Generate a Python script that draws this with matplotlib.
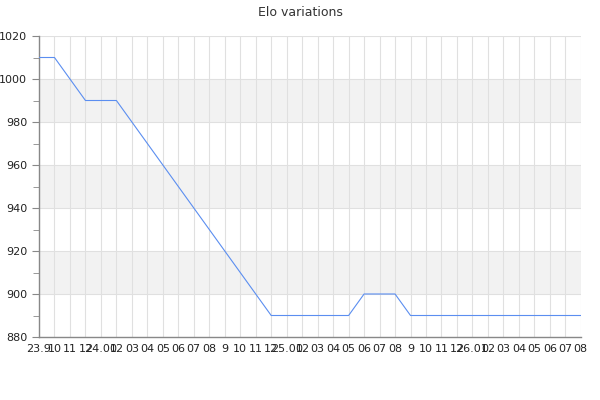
import matplotlib
matplotlib.use("Agg")
import matplotlib.pyplot as plt

# one point per month tick
MONTH_LABELS = ["23.9", "10", "11", "12", "24.01", "02", "03", "04", "05", "06", "07", "08",
                "9", "10", "11", "12", "25.01", "02", "03", "04", "05", "06", "07", "08",
                "9", "10", "11", "12", "26.01", "02", "03", "04", "05", "06", "07", "08"]
ELO = [1010, 1010, 1000, 990, 990, 990, 980, 970, 960, 950, 940, 930,
       920, 910, 900, 890, 890, 890, 890, 890, 890, 900, 900, 900,
       890, 890, 890, 890, 890, 890, 890, 890, 890, 890, 890, 890]

Y_MIN, Y_MAX, Y_STEP = 880, 1020, 20

fig = plt.figure(figsize=(6, 4), dpi=100)
ax = fig.add_axes([0.065, 0.1575, 0.903, 0.7525])

# alternating bands
for i, lo in enumerate(range(Y_MIN, Y_MAX, Y_STEP)):
    if i % 2 == 1:
        ax.axhspan(lo, lo + Y_STEP, color="#f2f2f2", lw=0, zorder=0)

xs = list(range(len(ELO)))
ax.plot(xs, ELO, color="#5b8ef0", lw=0.8, zorder=3)

ax.set_xlim(0, len(ELO) - 1)
ax.set_ylim(Y_MIN, Y_MAX)
ax.set_xticks(xs)
ax.set_xticklabels(MONTH_LABELS, fontsize=8, color="#222222")
ax.set_yticks(range(Y_MIN, Y_MAX + 1, Y_STEP))
ax.set_yticks(range(Y_MIN + 10, Y_MAX, Y_STEP), minor=True)
ax.tick_params(axis="y", labelsize=8, labelcolor="#222222", color="#888888", length=5)
ax.tick_params(axis="y", which="minor", color="#888888", length=4)
ax.tick_params(axis="x", length=0, pad=5)

ax.grid(True, color="#e0e0e0", lw=0.8, zorder=1)
ax.set_axisbelow(True)
for side in ["top", "right"]:
    ax.spines[side].set_visible(False)
for side in ["left", "bottom"]:
    ax.spines[side].set_color("#888888")
    ax.spines[side].set_linewidth(1)

fig.suptitle("Elo variations", fontsize=9, color="#333333", y=0.985)

fig.savefig("out.png", dpi=100)
